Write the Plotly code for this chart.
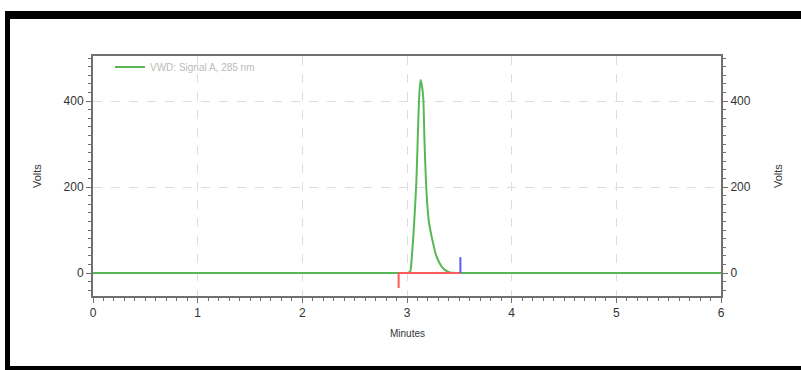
import plotly.graph_objects as go

# ---- data ----
time_min = [0.0, 2.90, 3.00, 3.030, 3.045, 3.060, 3.075, 3.089, 3.100, 3.110, 3.120, 3.130,
            3.145, 3.156, 3.168, 3.181, 3.195, 3.210, 3.236, 3.277, 3.331, 3.370, 3.410, 3.500, 6.0]
signal_volts = [0, 0, 0, 3, 35, 84, 145, 210, 290, 370, 425, 449,
                432, 404, 300, 215, 155, 118, 84, 42, 15, 6, 1, 0, 0]
integ_base_t = [2.92, 3.51]
integ_base_v = [0, 0]
peak_start_t = 2.92
peak_start_mark = -35
peak_end_t = 3.51
peak_end_mark = 37
x_ticks = [0, 1, 2, 3, 4, 5, 6]
y_ticks = [0, 200, 400]
legend_name = "VWD: Signal A, 285 nm"

W, H = 801, 370
L, R, T, B = 93, 80, 56, 74
PW, PH = W - L - R, H - T - B

def px(x):
    return (x - L) / PW

def py(y):
    return (H - B - y) / PH

sans = "Liberation Sans, Arial, sans-serif"

fig = go.Figure()
fig.add_trace(go.Scatter(x=time_min, y=signal_volts, mode="lines", name=legend_name,
                         line=dict(color="#58b858", width=2, shape="spline", smoothing=0.6)))
fig.add_trace(go.Scatter(x=integ_base_t, y=integ_base_v, mode="lines", showlegend=False,
                         line=dict(color="#ff5a5a", width=2)))
fig.add_trace(go.Scatter(x=[peak_start_t, peak_start_t], y=[0, peak_start_mark], mode="lines",
                         showlegend=False, line=dict(color="#ff5a5a", width=2)))
fig.add_trace(go.Scatter(x=[peak_end_t, peak_end_t], y=[0, peak_end_mark], mode="lines",
                         showlegend=False, line=dict(color="#5a5aff", width=2)))
fig.add_trace(go.Scatter(x=time_min, y=signal_volts, yaxis="y2", mode="lines",
                         showlegend=False, hoverinfo="skip", opacity=0,
                         line=dict(color="rgba(0,0,0,0)", width=0)))

yrange = [-53.5, 504.7]
axis_common = dict(
    showline=True, linecolor="#707070", linewidth=2,
    ticks="outside", ticklen=5, tickcolor="#707070", tickwidth=1,
    tickfont=dict(family=sans, size=12, color="#333333"),
    zeroline=False,
)
fig.update_layout(
    width=W, height=H,
    margin=dict(l=L, r=R, t=T, b=B, pad=0),
    paper_bgcolor="white", plot_bgcolor="white",
    showlegend=True,
    legend=dict(x=px(110), y=py(67), xanchor="left", yanchor="middle",
                bgcolor="rgba(0,0,0,0)", itemwidth=30,
                font=dict(family=sans, size=10, color="#bbbbbb")),
    xaxis=dict(range=[0, 6], tickvals=x_ticks, mirror=True,
               showgrid=True, gridcolor="#dddddd", griddash="dash", gridwidth=1,
               minor=dict(dtick=0.1, ticklen=3, tickcolor="#707070", ticks="outside", showgrid=False),
               **axis_common),
    yaxis=dict(range=yrange, tickvals=y_ticks,
               showgrid=True, gridcolor="#dddddd", griddash="dash", gridwidth=1,
               minor=dict(dtick=20, tick0=0, ticklen=3, tickcolor="#707070", ticks="outside", showgrid=False),
               **axis_common),
    yaxis2=dict(range=yrange, tickvals=y_ticks, overlaying="y", side="right",
                showgrid=False,
                minor=dict(dtick=20, tick0=0, ticklen=3, tickcolor="#707070", ticks="outside", showgrid=False),
                **axis_common),
    annotations=[
        dict(text="Volts", x=px(37), y=py(176), xref="paper", yref="paper", showarrow=False,
             xanchor="center", yanchor="middle",
             textangle=-90, font=dict(family=sans, size=11, color="#333333")),
        dict(text="Volts", x=px(778), y=py(176), xref="paper", yref="paper", showarrow=False,
             xanchor="center", yanchor="middle",
             textangle=-90, font=dict(family=sans, size=11, color="#333333")),
        dict(text="Minutes", x=px(407), y=py(333), xref="paper", yref="paper", showarrow=False,
             xanchor="center", yanchor="middle",
             font=dict(family=sans, size=10, color="#333333")),
    ],
    shapes=[
        dict(type="rect", xref="paper", yref="paper", x0=px(5), x1=px(820), y0=py(11), y1=py(19),
             fillcolor="black", line=dict(width=0), layer="above"),
        dict(type="rect", xref="paper", yref="paper", x0=px(5), x1=px(10), y0=py(11), y1=py(380),
             fillcolor="black", line=dict(width=0), layer="above"),
        dict(type="rect", xref="paper", yref="paper", x0=px(5), x1=px(820), y0=py(366), y1=py(380),
             fillcolor="black", line=dict(width=0), layer="above"),
    ],
)

fig.write_html("out.html", config={"displayModeBar": False},
               post_script="document.body.style.margin='0';document.body.style.overflow='hidden';")
